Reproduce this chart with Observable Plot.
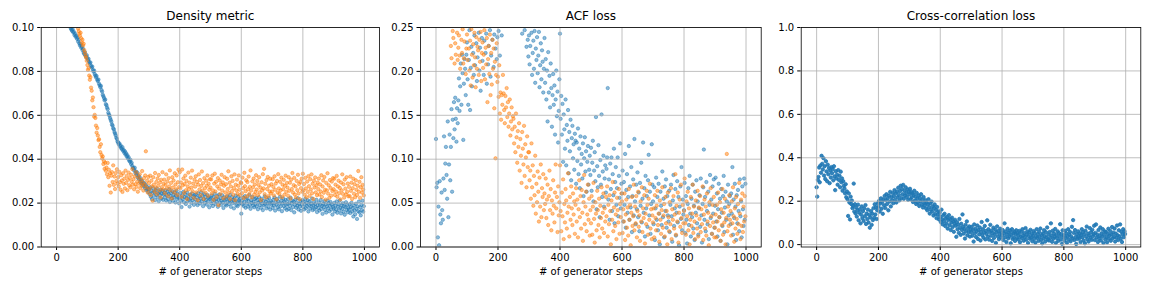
<!DOCTYPE html>
<html>
<head>
<meta charset="utf-8">
<script src="https://cdn.jsdelivr.net/npm/d3@7"></script>
<script src="https://cdn.jsdelivr.net/npm/@observablehq/plot@0.6"></script>
<style>
  html, body { margin: 0; padding: 0; background: white; }
  #chart { position: relative; width: 1152px; height: 288px; }
  #chart > div { position: absolute; top: 0; width: 384px; height: 288px; }
</style>
</head>
<body>
<div id="chart"><div id="p1" style="left:0"></div><div id="p2" style="left:384px"></div><div id="p3" style="left:768px"></div></div>
<script>
// null = point lies outside the visible y-range of the panel.
const stepInterval = 2;
const xTicks = [0, 200, 400, 600, 800, 1000];

const titles = ["Density metric", "ACF loss", "Cross-correlation loss"];
const xLabel = "# of generator steps";

const densityTicks = [0, 0.02, 0.04, 0.06, 0.08, 0.1];
const acfTicks = [0, 0.05, 0.1, 0.15, 0.2, 0.25];
const crossTicks = [0, 0.2, 0.4, 0.6, 0.8, 1.0];

const densityBlue = [
  null, null, null, null, null, null, null, null, null, null, null, null, null, null, null, null, null, null, null, null, null, null, null, 0.0997, 0.0991,
  0.0985, 0.0992, 0.0978, 0.0981, 0.0966, 0.0972, 0.0958, 0.0963, 0.0949, 0.0955, 0.0936, 0.0944, 0.0927, 0.0918, 0.0925, 0.0908, 0.0914, 0.0897, 0.0903, 0.0885, 0.0879, 0.0888, 0.0872, 0.0866, 0.0874,
  0.0861, 0.0852, 0.0857, 0.0843, 0.0836, 0.0841, 0.0825, 0.0818, 0.0822, 0.0806, 0.0799, 0.0804, 0.0788, 0.0781, 0.0773, 0.0779, 0.0762, 0.0756, 0.0763, 0.0744, 0.0737, 0.0728, 0.0734, 0.0715, 0.0708,
  0.0694, 0.0687, 0.0679, 0.0668, 0.0672, 0.0651, 0.0646, 0.0635, 0.0628, 0.0612, 0.0604, 0.0598, 0.0587, 0.0579, 0.0571, 0.0558, 0.0553, 0.0541, 0.0536, 0.0524, 0.0517, 0.0509, 0.0498, 0.0492, 0.0481,
  0.0476, 0.0468, 0.0472, 0.0459, 0.0463, 0.0451, 0.0446, 0.0455, 0.0438, 0.0442, 0.0429, 0.0436, 0.0421, 0.0427, 0.0412, 0.0418, 0.0403, 0.0409, 0.0394, 0.0389, 0.0397, 0.0378, 0.0384, 0.0369, 0.0361,
  0.0358, 0.0349, 0.0361, 0.0337, 0.0344, 0.0328, 0.0339, 0.0316, 0.0325, 0.0309, 0.0318, 0.0296, 0.0307, 0.0289, 0.0301, 0.0282, 0.0293, 0.0276, 0.0288, 0.0268, 0.0281, 0.0259, 0.0274, 0.0263, 0.0251,
  0.0264, 0.0241, 0.0272, 0.0229, 0.0255, 0.0218, 0.0247, 0.0268, 0.0233, 0.0251, 0.0214, 0.0259, 0.0238, 0.0266, 0.0226, 0.0245, 0.0209, 0.0252, 0.0237, 0.0261, 0.0221, 0.0243, 0.0256, 0.0215, 0.0239,
  0.0248, 0.0227, 0.0259, 0.0212, 0.0236, 0.0251, 0.0219, 0.0242, 0.0263, 0.0205, 0.0231, 0.0246, 0.0222, 0.0254, 0.0211, 0.0238, 0.0226, 0.0249, 0.0203, 0.0233, 0.0257, 0.0217, 0.0241, 0.0224, 0.0199,
  0.0228, 0.0246, 0.0211, 0.0182, 0.0235, 0.0219, 0.0252, 0.0204, 0.0227, 0.0241, 0.0196, 0.0223, 0.0248, 0.0209, 0.0232, 0.0215, 0.0184, 0.0238, 0.0221, 0.0201, 0.0244, 0.0213, 0.0229, 0.0192, 0.0236,
  0.0217, 0.0239, 0.0203, 0.0226, 0.0191, 0.0245, 0.0212, 0.0231, 0.0198, 0.0222, 0.0249, 0.0207, 0.0234, 0.0186, 0.0218, 0.0241, 0.0201, 0.0228, 0.0214, 0.0193, 0.0237, 0.0209, 0.0225, 0.0181, 0.0219,
  0.0224, 0.0198, 0.0235, 0.0209, 0.0187, 0.0228, 0.0214, 0.0243, 0.0196, 0.0219, 0.0205, 0.0232, 0.0183, 0.0216, 0.0239, 0.0201, 0.0222, 0.0192, 0.0211, 0.0236, 0.0204, 0.0178, 0.0226, 0.0213, 0.0194,
  0.0217, 0.0189, 0.0231, 0.0205, 0.0224, 0.0196, 0.0212, 0.0238, 0.0183, 0.0209, 0.0227, 0.0199, 0.0215, 0.0176, 0.0221, 0.0203, 0.0234, 0.0191, 0.0208, 0.0186, 0.0229, 0.0213, 0.0197, 0.0219, 0.0201,
  0.0152, 0.0211, 0.0194, 0.0226, 0.0187, 0.0205, 0.0232, 0.0179, 0.0216, 0.0198, 0.0221, 0.0184, 0.0209, 0.0237, 0.0192, 0.0174, 0.0213, 0.0201, 0.0228, 0.0189, 0.0206, 0.0181, 0.0219, 0.0196, 0.0223,
  0.0186, 0.0214, 0.0172, 0.0203, 0.0227, 0.0191, 0.0208, 0.0179, 0.0219, 0.0197, 0.0168, 0.0211, 0.0189, 0.0231, 0.0195, 0.0206, 0.0176, 0.0217, 0.0199, 0.0183, 0.0224, 0.0202, 0.0171, 0.0209, 0.0193,
  0.0201, 0.0178, 0.0215, 0.0189, 0.0226, 0.0166, 0.0204, 0.0193, 0.0219, 0.0181, 0.0208, 0.0172, 0.0197, 0.0229, 0.0185, 0.0211, 0.0163, 0.0199, 0.0221, 0.0187, 0.0206, 0.0176, 0.0214, 0.0191, 0.0169,
  0.0196, 0.0218, 0.0174, 0.0203, 0.0187, 0.0225, 0.0168, 0.0199, 0.0211, 0.0182, 0.0207, 0.0158, 0.0193, 0.0216, 0.0179, 0.0202, 0.0188, 0.0222, 0.0171, 0.0197, 0.0184, 0.0209, 0.0165, 0.0194, 0.0213,
  0.0183, 0.0206, 0.0171, 0.0195, 0.0219, 0.0177, 0.0201, 0.0186, 0.0213, 0.0162, 0.0192, 0.0208, 0.0175, 0.0198, 0.0184, 0.0221, 0.0168, 0.0189, 0.0204, 0.0173, 0.0196, 0.0181, 0.0215, 0.0159, 0.0191,
  0.0178, 0.0203, 0.0166, 0.0192, 0.0214, 0.0173, 0.0187, 0.0151, 0.0198, 0.0182, 0.0209, 0.0169, 0.0194, 0.0157, 0.0185, 0.0211, 0.0176, 0.0199, 0.0163, 0.0188, 0.0205, 0.0171, 0.0193, 0.0148, 0.0183,
  0.0176, 0.0201, 0.0162, 0.0189, 0.0172, 0.0208, 0.0156, 0.0184, 0.0195, 0.0167, 0.0212, 0.0179, 0.0153, 0.0191, 0.0174, 0.0199, 0.0161, 0.0186, 0.0147, 0.0182, 0.0204, 0.0169, 0.0193, 0.0158, 0.0178,
  0.0171, 0.0194, 0.0155, 0.0183, 0.0202, 0.0162, 0.0178, 0.0139, 0.0189, 0.0167, 0.0149, 0.0197, 0.0174, 0.0128, 0.0185, 0.0163, 0.0207, 0.0158, 0.0181, 0.0144, 0.0192, 0.0168, 0.0211, 0.0161, 0.0186
];

const densityOrange = [
  null, null, null, null, null, null, null, null, null, null, null, null, null, null, null, null, null, null, null, null, null, null, null, null, null,
  null, null, null, null, null, null, null, null, null, null, 0.0995, 0.0983, 0.0971, 0.0962, 0.0976, 0.0951, 0.0932, 0.0944, 0.0918, 0.0926, 0.0897, 0.0885, 0.0871, 0.0862, 0.0848,
  0.0829, 0.0807, 0.0815, 0.0781, 0.0762, 0.0774, 0.0726, 0.0712, 0.0668, 0.0681, 0.0637, 0.0594, 0.0602, 0.0588, 0.0553, 0.0521, 0.0542, 0.0508, 0.0487, 0.0491, 0.0456, 0.0432, 0.0468, 0.0419, 0.0403,
  0.0412, 0.0378, 0.0391, 0.0356, 0.0384, 0.0347, 0.0362, 0.0331, 0.0383, 0.0318, 0.0352, 0.0279, 0.0336, 0.0248, 0.0325, 0.0341, 0.0296, 0.0372, 0.0283, 0.0321, 0.0264, 0.0337, 0.0301, 0.0354, 0.0289,
  0.0318, 0.0276, 0.0342, 0.0295, 0.0261, 0.0327, 0.0303, 0.0251, 0.0336, 0.0288, 0.0311, 0.0267, 0.0348, 0.0292, 0.0324, 0.0259, 0.0306, 0.0339, 0.0281, 0.0314, 0.0272, 0.0329, 0.0297, 0.0355, 0.0284,
  0.0309, 0.0263, 0.0322, 0.0286, 0.0341, 0.0274, 0.0298, 0.0252, 0.0317, 0.0289, 0.0331, 0.0268, 0.0305, 0.0279, 0.0346, 0.0293, 0.0257, 0.0314, 0.0283, 0.0326, 0.0436, 0.0271, 0.0302, 0.0248, 0.0319,
  0.0291, 0.0264, 0.0325, 0.0237, 0.0302, 0.0276, 0.0211, 0.0318, 0.0284, 0.0253, 0.0337, 0.0269, 0.0296, 0.0241, 0.0312, 0.0279, 0.0328, 0.0258, 0.0294, 0.0226, 0.0306, 0.0273, 0.0341, 0.0262, 0.0288,
  0.0307, 0.0245, 0.0283, 0.0331, 0.0267, 0.0298, 0.0232, 0.0314, 0.0276, 0.0349, 0.0259, 0.0292, 0.0221, 0.0318, 0.0271, 0.0303, 0.0248, 0.0336, 0.0284, 0.0263, 0.0326, 0.0237, 0.0295, 0.0352, 0.0273,
  0.0341, 0.0268, 0.0294, 0.0229, 0.0353, 0.0281, 0.0312, 0.0246, 0.0287, 0.0325, 0.0259, 0.0301, 0.0218, 0.0276, 0.0339, 0.0263, 0.0293, 0.0238, 0.0316, 0.0271, 0.0348, 0.0254, 0.0289, 0.0224, 0.0307,
  0.0275, 0.0322, 0.0249, 0.0296, 0.0213, 0.0284, 0.0331, 0.0262, 0.0305, 0.0236, 0.0278, 0.0344, 0.0257, 0.0291, 0.0219, 0.0314, 0.0268, 0.0247, 0.0302, 0.0279, 0.0326, 0.0233, 0.0288, 0.0261, 0.0309,
  0.0271, 0.0308, 0.0244, 0.0326, 0.0258, 0.0215, 0.0289, 0.0334, 0.0253, 0.0297, 0.0228, 0.0276, 0.0314, 0.0191, 0.0266, 0.0303, 0.0241, 0.0285, 0.0329, 0.0257, 0.0294, 0.0222, 0.0279, 0.0318, 0.0249,
  0.0286, 0.0232, 0.0311, 0.0264, 0.0345, 0.0247, 0.0293, 0.0219, 0.0276, 0.0322, 0.0255, 0.0301, 0.0238, 0.0269, 0.0331, 0.0214, 0.0284, 0.0258, 0.0307, 0.0243, 0.0279, 0.0326, 0.0261, 0.0236, 0.0295,
  0.0291, 0.0245, 0.0316, 0.0268, 0.0223, 0.0338, 0.0277, 0.0254, 0.0304, 0.0231, 0.0296, 0.0263, 0.0321, 0.0242, 0.0274, 0.0349, 0.0257, 0.0226, 0.0299, 0.0272, 0.0312, 0.0239, 0.0285, 0.0251, 0.0327,
  0.0262, 0.0301, 0.0236, 0.0283, 0.0318, 0.0249, 0.0271, 0.0214, 0.0295, 0.0258, 0.0332, 0.0267, 0.0356, 0.0241, 0.0288, 0.0226, 0.0305, 0.0264, 0.0319, 0.0232, 0.0279, 0.0253, 0.0311, 0.0244, 0.0286,
  0.0253, 0.0309, 0.0274, 0.0235, 0.0322, 0.0261, 0.0289, 0.0217, 0.0301, 0.0248, 0.0332, 0.0267, 0.0242, 0.0297, 0.0258, 0.0316, 0.0227, 0.0284, 0.0263, 0.0306, 0.0238, 0.0279, 0.0325, 0.0251, 0.0292,
  0.0271, 0.0234, 0.0318, 0.0256, 0.0293, 0.0221, 0.0307, 0.0264, 0.0337, 0.0248, 0.0282, 0.0315, 0.0239, 0.0276, 0.0226, 0.0301, 0.0259, 0.0329, 0.0244, 0.0287, 0.0218, 0.0296, 0.0268, 0.0311, 0.0252,
  0.0334, 0.0258, 0.0287, 0.0238, 0.0315, 0.0267, 0.0226, 0.0298, 0.0251, 0.0323, 0.0277, 0.0233, 0.0309, 0.0262, 0.0331, 0.0245, 0.0288, 0.0219, 0.0302, 0.0271, 0.0317, 0.0249, 0.0281, 0.0236, 0.0294,
  0.0264, 0.0312, 0.0239, 0.0285, 0.0253, 0.0327, 0.0228, 0.0276, 0.0303, 0.0247, 0.0319, 0.0261, 0.0216, 0.0292, 0.0258, 0.0336, 0.0243, 0.0281, 0.0224, 0.0305, 0.0269, 0.0234, 0.0298, 0.0255, 0.0314,
  0.0263, 0.0311, 0.0237, 0.0284, 0.0252, 0.0324, 0.0229, 0.0276, 0.0302, 0.0245, 0.0269, 0.0217, 0.0294, 0.0258, 0.0331, 0.0242, 0.0286, 0.0225, 0.0307, 0.0266, 0.0239, 0.0318, 0.0251, 0.0289, 0.0231,
  0.0274, 0.0232, 0.0321, 0.0256, 0.0293, 0.0219, 0.0268, 0.0311, 0.0243, 0.0286, 0.0227, 0.0304, 0.0261, 0.0237, 0.0279, 0.0346, 0.0252, 0.0297, 0.0224, 0.0272, 0.0318, 0.0248, 0.0283, 0.0262, 0.0235
];

const acfBlue = [
  0.123, 0.068, 0.073, 0.011, 0.046, 0.002, 0.075, 0.037, 0.027, 0.062, 0.042, 0.031, 0.078, 0.126, 0.065, 0.095, 0.114, 0.082, 0.055, 0.143, 0.034, 0.094, 0.128, 0.076, 0.114,
  0.157, 0.063, 0.145, 0.124, 0.165, 0.134, 0.170, 0.146, 0.120, 0.158, 0.141, 0.167, 0.192, 0.155, 0.183, 0.209, 0.162, 0.219, 0.198, 0.122, 0.186, 0.214, 0.203, 0.173, 0.219,
  0.233, 0.191, 0.162, 0.213, 0.247, 0.156, 0.204, 0.228, 0.183, null, 0.221, 0.196, 0.241, 0.207, null, 0.232, 0.189, 0.216, null, 0.244, 0.201, 0.227, 0.178, null, 0.238,
  0.212, null, 0.196, 0.235, null, 0.221, 0.243, 0.186, null, 0.208, 0.229, null, 0.247, 0.194, 0.218, null, 0.236, null, 0.205, 0.242, null, 0.226, null, 0.214, 0.239,
  null, 0.246, null, 0.218, null, null, 0.241, null, null, null, null, null, null, null, null, null, null, null, null, null, null, null, null, null, null,
  null, null, null, null, null, null, null, null, null, null, null, null, null, null, 0.243, null, null, null, 0.247, null, null, 0.228, null, 0.236, 0.217,
  0.241, 0.208, 0.229, null, 0.244, 0.196, 0.221, 0.235, 0.203, 0.246, 0.187, 0.226, 0.213, 0.239, 0.198, 0.218, 0.245, 0.182, 0.207, 0.232, 0.191, 0.224, 0.211, 0.176, 0.203,
  0.238, 0.187, 0.214, 0.168, 0.201, 0.143, 0.222, 0.176, 0.195, 0.159, 0.209, 0.181, 0.137, 0.173, 0.197, 0.162, 0.184, 0.128, 0.168, 0.201, 0.149, 0.177, 0.119, 0.155, 0.191,
  0.243, 0.146, 0.172, 0.128, 0.163, 0.097, 0.151, 0.134, 0.112, 0.168, 0.093, 0.139, 0.121, 0.156, 0.084, 0.131, 0.109, 0.145, 0.076, 0.124, 0.138, 0.101, 0.117, 0.088, 0.129,
  0.121, 0.072, 0.119, 0.098, 0.135, 0.083, 0.112, 0.067, 0.126, 0.094, 0.106, 0.078, 0.118, 0.058, 0.101, 0.125, 0.086, 0.109, 0.063, 0.097, 0.115, 0.071, 0.088, 0.104, 0.082,
  0.113, 0.064, 0.096, 0.121, 0.052, 0.087, 0.108, 0.075, 0.148, 0.043, 0.092, 0.068, 0.116, 0.081, 0.034, 0.099, 0.071, 0.151, 0.057, 0.086, 0.104, 0.046, 0.078, 0.093, 0.062,
  0.089, 0.102, 0.181, 0.054, 0.077, 0.031, 0.095, 0.066, 0.102, 0.041, 0.083, 0.059, 0.112, 0.027, 0.074, 0.091, 0.048, 0.067, 0.102, 0.035, 0.081, 0.056, 0.118, 0.044, 0.072,
  0.061, 0.087, 0.029, 0.074, 0.048, 0.106, 0.022, 0.065, 0.083, 0.039, 0.057, 0.115, 0.031, 0.069, 0.045, 0.091, 0.017, 0.058, 0.077, 0.036, 0.123, 0.052, 0.026, 0.071, 0.043,
  0.085, 0.034, 0.062, 0.018, 0.073, 0.047, 0.096, 0.028, 0.055, 0.119, 0.039, 0.067, 0.012, 0.081, 0.044, 0.058, 0.023, 0.076, 0.105, 0.036, 0.063, 0.015, 0.049, 0.117, 0.071,
  0.052, 0.026, 0.068, 0.008, 0.044, 0.079, 0.031, 0.057, 0.019, 0.072, 0.038, 0.003, 0.063, 0.047, 0.025, 0.086, 0.034, 0.055, 0.011, 0.069, 0.041, 0.077, 0.022, 0.058, 0.036,
  0.029, 0.064, 0.017, 0.048, 0.071, 0.035, 0.006, 0.053, 0.082, 0.024, 0.044, 0.066, 0.013, 0.039, 0.075, 0.028, 0.057, 0.002, 0.046, 0.069, 0.032, 0.091, 0.019, 0.054, 0.037,
  0.042, 0.073, 0.016, 0.058, 0.031, 0.004, 0.049, 0.067, 0.025, 0.081, 0.038, 0.012, 0.055, 0.034, 0.071, 0.021, 0.047, 0.008, 0.063, 0.039, 0.076, 0.027, 0.052, 0.014, 0.044,
  0.059, 0.023, 0.078, 0.036, 0.005, 0.049, 0.068, 0.111, 0.031, 0.057, 0.018, 0.074, 0.041, 0.026, 0.063, 0.009, 0.048, 0.082, 0.033, 0.054, 0.015, 0.069, 0.038, 0.077, 0.022,
  0.047, 0.079, 0.029, 0.061, 0.012, 0.043, 0.072, 0.034, 0.055, 0.007, 0.066, 0.039, 0.024, 0.058, 0.081, 0.017, 0.045, 0.063, 0.031, 0.052, 0.003, 0.071, 0.036, 0.049, 0.058,
  0.026, 0.061, 0.038, 0.091, 0.014, 0.054, 0.033, 0.072, 0.046, 0.008, 0.059, 0.027, 0.065, 0.041, 0.018, 0.077, 0.035, 0.052, 0.011, 0.069, 0.043, 0.024, 0.078, 0.031, 0.072
];

const acfOrange = [
  null, null, null, null, null, null, null, null, null, null, null, null, null, null, null, null, null, null, null, null, null, null, null, null, 0.229,
  0.215, null, 0.246, 0.238, null, 0.209, 0.232, 0.219, null, 0.244, 0.213, 0.227, 0.241, 0.218, 0.203, null, 0.236, 0.221, 0.248, 0.209, 0.215, 0.234, null, 0.197, 0.226,
  0.242, 0.213, null, 0.226, 0.201, 0.235, 0.184, 0.248, 0.219, 0.193, 0.231, 0.207, 0.244, 0.216, 0.182, 0.239, 0.203, 0.228, 0.224, 0.196, 0.236, 0.211, 0.245, 0.189, 0.221,
  0.233, 0.204, 0.219, 0.247, 0.191, 0.227, 0.208, 0.238, 0.165, 0.214, 0.229, 0.197, 0.242, 0.173, 0.221, 0.185, 0.236, 0.203, 0.226, 0.158, 0.211, 0.101, 0.196, 0.232, 0.188,
  0.194, 0.171, 0.207, 0.152, 0.176, 0.145, 0.173, 0.162, 0.196, 0.175, 0.156, 0.141, 0.172, 0.159, 0.181, 0.148, 0.165, 0.137, 0.152, 0.168, 0.127, 0.143, 0.159, 0.134, 0.149,
  0.146, 0.118, 0.137, 0.108, 0.152, 0.125, 0.096, 0.132, 0.114, 0.141, 0.087, 0.123, 0.104, 0.073, 0.131, 0.112, 0.094, 0.138, 0.081, 0.117, 0.102, 0.068, 0.126, 0.091, 0.108,
  0.108, 0.076, 0.087, 0.055, 0.118, 0.068, 0.093, 0.047, 0.081, 0.059, 0.104, 0.038, 0.072, 0.051, 0.086, 0.063, 0.029, 0.079, 0.046, 0.094, 0.034, 0.067, 0.057, 0.083, 0.042,
  0.061, 0.049, 0.078, 0.033, 0.054, 0.071, 0.025, 0.058, 0.087, 0.042, 0.066, 0.019, 0.053, 0.038, 0.076, 0.047, 0.028, 0.062, 0.094, 0.044, 0.057, 0.017, 0.069, 0.036, 0.051,
  0.093, 0.041, 0.018, 0.062, 0.035, 0.077, 0.009, 0.049, 0.028, 0.066, 0.053, 0.021, 0.039, 0.084, 0.046, 0.012, 0.057, 0.031, 0.069, 0.044, 0.025, 0.061, 0.037, 0.052, 0.015,
  0.048, 0.067, 0.029, 0.054, 0.011, 0.043, 0.076, 0.034, 0.058, 0.021, 0.065, 0.039, 0.007, 0.051, 0.082, 0.026, 0.046, 0.063, 0.018, 0.037, 0.071, 0.031, 0.055, 0.013, 0.042,
  0.027, 0.058, 0.014, 0.046, 0.073, 0.032, 0.005, 0.051, 0.038, 0.019, 0.064, 0.042, 0.025, 0.055, 0.011, 0.047, 0.033, 0.068, 0.021, 0.039, 0.061, 0.016, 0.044, 0.029, 0.057,
  0.035, 0.069, 0.012, 0.048, 0.026, 0.059, 0.041, 0.003, 0.053, 0.031, 0.074, 0.018, 0.045, 0.062, 0.024, 0.037, 0.009, 0.056, 0.042, 0.028, 0.066, 0.015, 0.049, 0.034, 0.061,
  0.052, 0.016, 0.043, 0.029, 0.061, 0.008, 0.037, 0.054, 0.022, 0.045, 0.013, 0.066, 0.031, 0.048, 0.002, 0.039, 0.057, 0.024, 0.035, 0.071, 0.019, 0.046, 0.027, 0.058, 0.011,
  0.041, 0.063, 0.023, 0.036, 0.007, 0.052, 0.029, 0.068, 0.017, 0.044, 0.033, 0.059, 0.004, 0.038, 0.026, 0.064, 0.048, 0.014, 0.055, 0.031, 0.072, 0.021, 0.043, 0.009, 0.036,
  0.028, 0.044, 0.011, 0.059, 0.033, 0.019, 0.047, 0.064, 0.025, 0.038, 0.006, 0.053, 0.031, 0.015, 0.042, 0.068, 0.022, 0.036, 0.049, 0.012, 0.057, 0.027, 0.041, 0.003, 0.062,
  0.034, 0.018, 0.051, 0.026, 0.067, 0.009, 0.043, 0.031, 0.058, 0.021, 0.037, 0.083, 0.014, 0.047, 0.029, 0.062, 0.005, 0.039, 0.054, 0.023, 0.071, 0.033, 0.016, 0.048, 0.027,
  0.041, 0.078, 0.027, 0.014, 0.052, 0.035, 0.063, 0.019, 0.044, 0.003, 0.031, 0.057, 0.024, 0.038, 0.071, 0.016, 0.046, 0.029, 0.009, 0.053, 0.036, 0.021, 0.064, 0.012, 0.045,
  0.032, 0.058, 0.017, 0.043, 0.026, 0.069, 0.008, 0.037, 0.054, 0.021, 0.046, 0.013, 0.061, 0.029, 0.039, 0.002, 0.051, 0.024, 0.067, 0.035, 0.015, 0.048, 0.028, 0.057, 0.011,
  0.022, 0.037, 0.011, 0.048, 0.029, 0.062, 0.019, 0.034, 0.051, 0.007, 0.043, 0.025, 0.066, 0.014, 0.039, 0.028, 0.055, 0.003, 0.033, 0.106, 0.018, 0.046, 0.024, 0.059, 0.031,
  0.041, 0.013, 0.052, 0.027, 0.068, 0.035, 0.006, 0.044, 0.021, 0.057, 0.032, 0.015, 0.049, 0.026, 0.073, 0.038, 0.009, 0.054, 0.024, 0.061, 0.017, 0.046, 0.029, 0.058, 0.035
];

const crossBlue = [
  0.264, 0.221, 0.298, 0.312, 0.355, 0.287, 0.364, 0.331, 0.409, 0.372, 0.346, 0.398, 0.318, 0.361, 0.302, 0.384, 0.337, 0.292, 0.368, 0.324, 0.352, 0.283, 0.341, 0.309, 0.357,
  0.329, 0.348, 0.296, 0.361, 0.314, 0.251, 0.338, 0.305, 0.322, 0.276, 0.343, 0.298, 0.317, 0.264, 0.336, 0.287, 0.305, 0.248, 0.292, 0.271, 0.259, 0.236, 0.278, 0.218, 0.245,
  0.209, 0.132, 0.236, 0.194, 0.116, 0.221, 0.187, 0.203, 0.168, 0.179, 0.281, 0.152, 0.186, 0.143, 0.171, 0.129, 0.158, 0.184, 0.112, 0.147, 0.163, 0.098, 0.138, 0.176, 0.122,
  0.154, 0.109, 0.167, 0.131, 0.182, 0.095, 0.143, 0.118, 0.161, 0.102, 0.137, 0.078, 0.125, 0.154, 0.091, 0.142, 0.113, 0.168, 0.124, 0.186, 0.139, 0.172, 0.118, 0.158, 0.191,
  0.174, 0.201, 0.152, 0.189, 0.213, 0.165, 0.196, 0.142, 0.208, 0.181, 0.224, 0.169, 0.205, 0.232, 0.187, 0.214, 0.158, 0.226, 0.198, 0.243, 0.176, 0.219, 0.204, 0.238, 0.191,
  0.223, 0.251, 0.207, 0.236, 0.194, 0.244, 0.218, 0.262, 0.229, 0.204, 0.247, 0.271, 0.215, 0.256, 0.232, 0.275, 0.211, 0.248, 0.226, 0.264, 0.238, 0.219, 0.254, 0.207, 0.243,
  0.231, 0.257, 0.209, 0.242, 0.218, 0.236, 0.196, 0.229, 0.248, 0.203, 0.221, 0.187, 0.238, 0.211, 0.194, 0.226, 0.178, 0.215, 0.199, 0.232, 0.184, 0.206, 0.171, 0.219, 0.193,
  0.181, 0.205, 0.167, 0.194, 0.158, 0.186, 0.209, 0.172, 0.143, 0.189, 0.161, 0.198, 0.152, 0.176, 0.134, 0.168, 0.185, 0.141, 0.159, 0.122, 0.173, 0.138, 0.153, 0.116, 0.147,
  0.128, 0.104, 0.161, 0.117, 0.093, 0.135, 0.109, 0.142, 0.086, 0.121, 0.098, 0.127, 0.074, 0.113, 0.136, 0.089, 0.118, 0.067, 0.102, 0.124, 0.081, 0.108, 0.059, 0.096, 0.114,
  0.087, 0.036, 0.103, 0.071, 0.092, 0.054, 0.118, 0.078, 0.045, 0.096, 0.067, 0.139, 0.082, 0.051, 0.073, 0.028, 0.091, 0.062, 0.107, 0.043, 0.076, 0.058, 0.084, 0.037, 0.069,
  0.057, 0.082, 0.041, 0.068, 0.014, 0.093, 0.052, 0.073, 0.035, 0.061, 0.088, 0.026, 0.067, 0.047, 0.079, 0.019, 0.058, 0.104, 0.043, 0.071, 0.032, 0.055, 0.086, 0.024, 0.063,
  0.049, 0.112, 0.036, 0.071, 0.023, 0.058, 0.091, 0.041, 0.064, 0.017, 0.053, 0.078, 0.031, 0.046, 0.069, 0.008, 0.057, 0.084, 0.038, 0.062, 0.025, 0.049, 0.073, 0.034, 0.056,
  0.043, 0.067, 0.021, 0.052, 0.098, 0.034, 0.061, 0.012, 0.047, 0.073, 0.029, 0.055, 0.038, 0.064, 0.006, 0.045, 0.071, 0.026, 0.053, 0.033, 0.059, 0.017, 0.048, 0.066, 0.031,
  0.052, 0.024, 0.044, 0.063, 0.011, 0.037, 0.058, 0.029, 0.071, 0.042, 0.018, 0.054, 0.035, 0.076, 0.023, 0.047, 0.061, 0.008, 0.039, 0.056, 0.027, 0.068, 0.032, 0.049, 0.015,
  0.041, 0.062, 0.026, 0.053, 0.009, 0.037, 0.071, 0.031, 0.048, 0.017, 0.059, 0.035, 0.074, 0.022, 0.044, 0.006, 0.051, 0.028, 0.066, 0.039, 0.014, 0.057, 0.033, 0.079, 0.024,
  0.046, 0.019, 0.058, 0.031, 0.098, 0.042, 0.013, 0.064, 0.027, 0.051, 0.036, 0.072, 0.008, 0.045, 0.029, 0.061, 0.017, 0.053, 0.038, 0.094, 0.023, 0.049, 0.004, 0.066, 0.034,
  0.043, 0.018, 0.064, 0.031, 0.052, 0.009, 0.039, 0.071, 0.024, 0.046, 0.058, 0.015, 0.037, 0.082, 0.028, 0.113, 0.054, 0.021, 0.067, 0.035, 0.003, 0.049, 0.026, 0.061, 0.038,
  0.029, 0.052, 0.012, 0.044, 0.071, 0.033, 0.058, 0.019, 0.047, 0.006, 0.064, 0.037, 0.083, 0.025, 0.051, 0.014, 0.042, 0.076, 0.031, 0.057, 0.022, 0.068, 0.039, 0.048, 0.087,
  0.021, 0.054, 0.093, 0.033, 0.046, 0.012, 0.067, 0.028, 0.041, 0.079, 0.019, 0.052, 0.036, 0.071, 0.008, 0.045, 0.061, 0.025, 0.058, 0.034, 0.011, 0.049, 0.073, 0.027, 0.042,
  0.063, 0.018, 0.047, 0.081, 0.029, 0.055, 0.036, 0.074, 0.014, 0.051, 0.032, 0.088, 0.043, 0.021, 0.066, 0.038, 0.093, 0.027, 0.059, 0.012, 0.048, 0.071, 0.034, 0.062, 0.049
];

const BLUE = "#1f77b4", ORANGE = "#ff7f0e";

function toPoints(values) {
  return values.map((v, i) => ({step: i * stepInterval, value: v})).filter(d => d.value != null);
}

function dots(values, color, alpha) {
  return Plot.dot(toPoints(values), {
    x: "step", y: "value", r: 1.7,
    fill: color, fillOpacity: alpha,
    stroke: color, strokeOpacity: alpha, strokeWidth: 0.9,
    clip: true
  });
}

function panel({title, series, yDomain, yTicks, yFormat, marginLeft, marginRight}) {
  return Plot.plot({
    width: 384, height: 288,
    marginLeft, marginRight, marginTop: 27, marginBottom: 41.5,
    style: {fontFamily: "'DejaVu Sans', sans-serif", fontSize: "10px", color: "black", background: "white", overflow: "visible"},
    x: {domain: [-49.95, 1048.95], ticks: xTicks, tickFormat: d => String(d), label: null, tickSize: 3.5, tickPadding: 3.5},
    y: {domain: yDomain, ticks: yTicks, tickFormat: yFormat, label: null, tickSize: 3.5, tickPadding: 3.5},
    marks: [
      ...series.map(s => dots(s.values, s.color, s.alpha)),
      Plot.gridX(xTicks, {stroke: "#b0b0b0", strokeOpacity: 1, strokeWidth: 0.8}),
      Plot.gridY(yTicks, {stroke: "#b0b0b0", strokeOpacity: 1, strokeWidth: 0.8}),
      Plot.frame({stroke: "black", strokeWidth: 0.8}),
      Plot.text([title], {frameAnchor: "top", dy: -11, lineAnchor: "middle", fontSize: 12, fill: "black"}),
      Plot.text([xLabel], {frameAnchor: "bottom", dy: 25, lineAnchor: "middle", fontSize: 10, fill: "black"})
    ]
  });
}

document.getElementById("p1").append(panel({
  title: titles[0],
  series: [{values: densityBlue, color: BLUE, alpha: 0.5}, {values: densityOrange, color: ORANGE, alpha: 0.5}],
  yDomain: [0, 0.1], yTicks: densityTicks, yFormat: d3.format(".2f"),
  marginLeft: 40.7, marginRight: 5
}));
document.getElementById("p2").append(panel({
  title: titles[1],
  series: [{values: acfBlue, color: BLUE, alpha: 0.5}, {values: acfOrange, color: ORANGE, alpha: 0.5}],
  yDomain: [0, 0.25], yTicks: acfTicks, yFormat: d3.format(".2f"),
  marginLeft: 36, marginRight: 7.3
}));
document.getElementById("p3").append(panel({
  title: titles[2],
  series: [{values: crossBlue, color: BLUE, alpha: 0.9}],
  yDomain: [-0.011, 1.0], yTicks: crossTicks, yFormat: d3.format(".1f"),
  marginLeft: 32.7, marginRight: 11.7
}));
</script>
</body>
</html>
